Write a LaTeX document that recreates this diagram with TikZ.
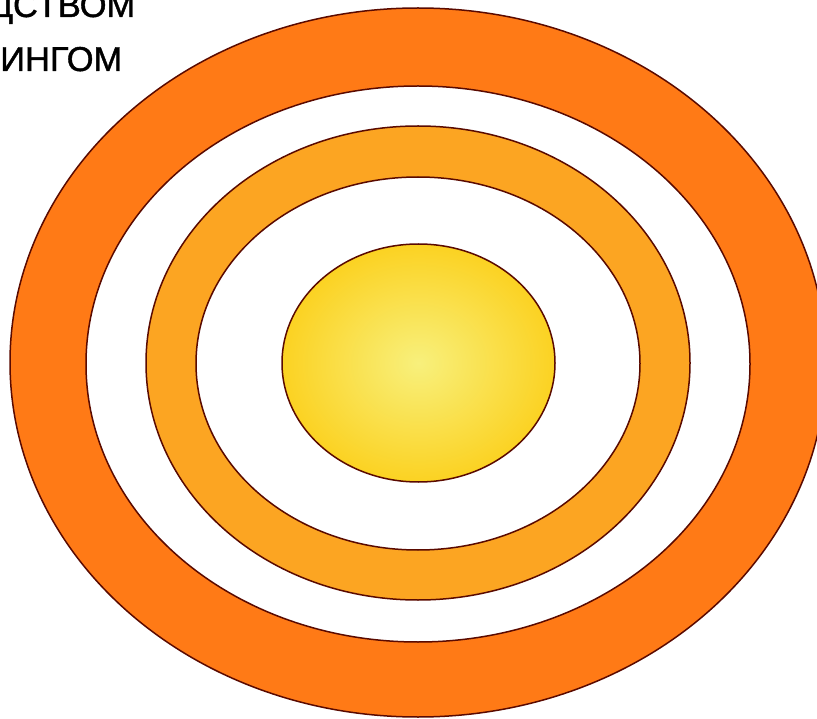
\documentclass[tikz,border=0pt]{standalone}
\usepackage{fontspec}
\setmainfont{Liberation Sans}
\newfontfamily\lblfont{Liberation Sans}[FakeBold=1.2]
\begin{document}
\begin{tikzpicture}[x=1pt,y=-1pt]
\definecolor{ringdark}{HTML}{5A0A00}
\definecolor{outerring}{HTML}{FF7A16}
\definecolor{midring}{HTML}{FCA522}
\definecolor{sunin}{HTML}{F8F07C}
\definecolor{sunout}{HTML}{FBD222}
\tikzset{
  ringline/.style={draw=ringdark, line width=1.5pt},
  lbl/.style={inner sep=0pt, anchor=base east, font=\lblfont\fontsize{34.5}{40}\selectfont, text=black}
}
\useasboundingbox (0,0) rectangle (817,719);
\begin{scope}
\clip (0,0) rectangle (817,719);
% outer ring
\path[fill=outerring, even odd rule] (418,362.5) ellipse [x radius=408, y radius=354.5]
  (418,364) ellipse [x radius=332, y radius=278];
\draw[ringline] (418,362.5) ellipse [x radius=408, y radius=354.5];
\draw[ringline] (418,364) ellipse [x radius=332, y radius=278];
% middle ring
\path[fill=midring, even odd rule] (418,363) ellipse [x radius=272, y radius=237]
  (418,363.5) ellipse [x radius=222, y radius=186.5];
\draw[ringline] (418,363) ellipse [x radius=272, y radius=237];
\draw[ringline] (418,363.5) ellipse [x radius=222, y radius=186.5];
% inner sun
\shade[inner color=sunin, outer color=sunout] (418.5,363) ellipse [x radius=136.5, y radius=119];
\draw[ringline] (418.5,363) ellipse [x radius=136.5, y radius=119];
% text
\node[lbl] (t1) at (135.5,17) {ДСТВОМ};
\node[lbl] (t2) at (122.5,71) {ИНГОМ};
\end{scope}
\end{tikzpicture}
\end{document}
